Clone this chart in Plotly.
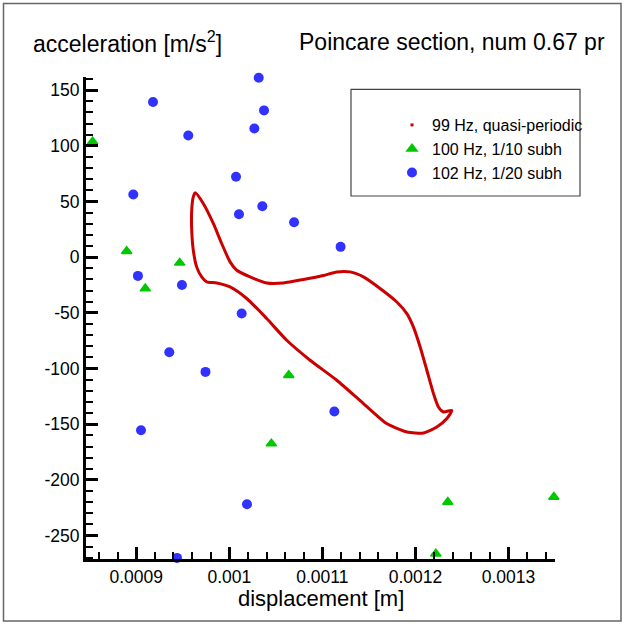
import plotly.graph_objects as go

# 102 Hz response, 1/20 subharmonic: Poincare points (displacement [m], acceleration [m/s^2])
sub20_disp = [0.0010316, 0.0009180, 0.0010373, 0.0010269, 0.0009559, 0.0010072, 0.0008968,
              0.0010104, 0.0010355, 0.0010696, 0.0011196, 0.0009018, 0.0009491, 0.0010133,
              0.0009355, 0.0009744, 0.0009051, 0.0011129, 0.0010190, 0.0009438]
sub20_acc = [161.1, 139.3, 131.8, 115.6, 109.3, 72.2, 56.3,
             38.6, 45.8, 31.4, 9.3, -16.8, -24.9, -50.6,
             -85.4, -103.0, -155.4, -138.6, -221.9, -270.0]

# 100 Hz response, 1/10 subharmonic
sub10_disp = [0.0008531, 0.0008456, 0.0008897, 0.0009467, 0.0009097,
              0.0010639, 0.0010452, 0.0012219, 0.0012348, 0.0013488]
sub10_acc = [103.6, 54.8, 5.4, -5.1, -28.2,
             -106.0, -167.4, -266.2, -219.9, -215.4]

# 99 Hz response, quasi-periodic: closed invariant curve
qp_disp = [0.0009634, 0.0009720, 0.0009828, 0.0009918, 0.0010008, 0.0010080, 0.0010223,
           0.0010402, 0.0010581, 0.0010796, 0.0011011, 0.0011155, 0.0011298, 0.0011441,
           0.0011620, 0.0011800, 0.0011908, 0.0011978, 0.0012051, 0.0012123, 0.0012194,
           0.0012247, 0.0012301, 0.0012391, 0.0012338, 0.0012230, 0.0012086, 0.0011908,
           0.0011692, 0.0011441, 0.0011155, 0.0010868, 0.0010617, 0.0010402, 0.0010187,
           0.0010008, 0.0009865, 0.0009757, 0.0009703, 0.0009649, 0.0009613, 0.0009596,
           0.0009596, 0.0009613, 0.0009634]
qp_acc = [57.8, 48.2, 30.3, 12.3, -4.2, -11.7, -17.7,
          -23.1, -23.1, -20.0, -16.4, -13.2, -13.2, -17.7,
          -28.1, -40.2, -50.6, -62.6, -80.6, -101.5, -122.5,
          -134.5, -139.0, -137.5, -144.9, -152.5, -157.9, -157.0,
          -149.4, -131.4, -110.5, -92.5, -74.6, -55.1, -37.1,
          -26.7, -23.1, -22.2, -17.7, -8.7, 6.3, 24.3,
          42.2, 54.2, 57.8]

x_tick_vals = [0.0009, 0.0010, 0.0011, 0.0012, 0.0013]
x_tick_text = ["0.0009", "0.001", "0.0011", "0.0012", "0.0013"]
y_tick_vals = [150, 100, 50, 0, -50, -100, -150, -200, -250]
y_tick_text = ["150", "100", "50", "0", "-50", "-100", "-150", "-200", "-250"]

FONT = "Liberation Sans, Arial, Helvetica, sans-serif"
RED, GREEN, BLUE = "#cc0000", "#00c800", "#3232ff"

W, H = 624, 625
ML, MR, MT, MB = 86, 69, 77, 66
PW, PH = W - ML - MR, H - MT - MB


def px_x(p):
    return (p - ML) / PW


def px_y(p):
    return (H - MB - p) / PH


fig = go.Figure()

fig.add_trace(go.Scatter(
    x=qp_disp, y=qp_acc, mode="lines",
    line=dict(color=RED, width=3, shape="spline", smoothing=0.6),
    showlegend=False, cliponaxis=False, hoverinfo="skip"))
fig.add_trace(go.Scatter(
    x=[None], y=[None], mode="markers", name="99 Hz, quasi-periodic",
    marker=dict(symbol="square", size=3, color=RED)))
fig.add_trace(go.Scatter(
    x=sub10_disp, y=sub10_acc, mode="markers", name="100 Hz, 1/10 subh",
    marker=dict(symbol="triangle-up", size=9, color=GREEN,
                line=dict(color=GREEN, width=1.5)),
    cliponaxis=False))
fig.add_trace(go.Scatter(
    x=sub20_disp, y=sub20_acc, mode="markers", name="102 Hz, 1/20 subh",
    marker=dict(symbol="circle", size=10, color=BLUE),
    cliponaxis=False))

axis_common = dict(
    showline=True, linecolor="black", linewidth=3,
    ticks="inside", ticklen=12, tickwidth=2.5, tickcolor="black",
    showgrid=False, zeroline=False, mirror=False,
    tickfont=dict(family=FONT, size=17.5, color="black"),
)

fig.update_xaxes(
    range=[0.000846, 0.00135], tickmode="array",
    tickvals=x_tick_vals, ticktext=x_tick_text,
    minor=dict(ticks="inside", ticklen=7, tickwidth=1.5, tickcolor="black",
               dtick=0.00002, tick0=0.0009, showgrid=False),
    **axis_common)
fig.update_yaxes(
    range=[-271.0, 161.8], tickmode="array",
    tickvals=y_tick_vals, ticktext=y_tick_text,
    minor=dict(ticks="inside", ticklen=7, tickwidth=1.5, tickcolor="black",
               dtick=10, tick0=0, showgrid=False),
    **axis_common)

shapes = [
    # outer frame
    dict(type="rect", xref="paper", yref="paper",
         x0=px_x(3.5), x1=px_x(621), y0=px_y(621), y1=px_y(3.5),
         line=dict(color="#666666", width=1.5), fillcolor="rgba(0,0,0,0)", layer="below"),
    # legend box
    dict(type="rect", xref="paper", yref="paper",
         x0=px_x(351), x1=px_x(580), y0=px_y(196), y1=px_y(89.3),
         line=dict(color="#444444", width=1.2), fillcolor="white", layer="below"),
]

annotations = [
    dict(text="acceleration [m/s<sup>2</sup>]", xref="paper", yref="paper",
         x=px_x(31), y=px_y(41.5), xanchor="left", yanchor="middle", showarrow=False,
         font=dict(family=FONT, size=23, color="black")),
    dict(text="Poincare section, num 0.67 pr", xref="paper", yref="paper",
         x=px_x(297), y=px_y(41.5), xanchor="left", yanchor="middle", showarrow=False,
         font=dict(family=FONT, size=23, color="black")),
    dict(text="displacement [m]", xref="paper", yref="paper",
         x=px_x(321), y=px_y(598), xanchor="center", yanchor="middle", showarrow=False,
         font=dict(family=FONT, size=22, color="black")),
]

fig.update_layout(
    width=W, height=H,
    margin=dict(l=ML, r=MR, t=MT, b=MB),
    paper_bgcolor="white", plot_bgcolor="white",
    shapes=shapes, annotations=annotations,
    legend=dict(x=px_x(392), y=px_y(108), xanchor="left", yanchor="top",
                bgcolor="rgba(0,0,0,0)", borderwidth=0,
                font=dict(family=FONT, size=16, color="black"),
                tracegroupgap=0, itemsizing="trace"),
    font=dict(family=FONT),
)

fig.write_html("out.html")
